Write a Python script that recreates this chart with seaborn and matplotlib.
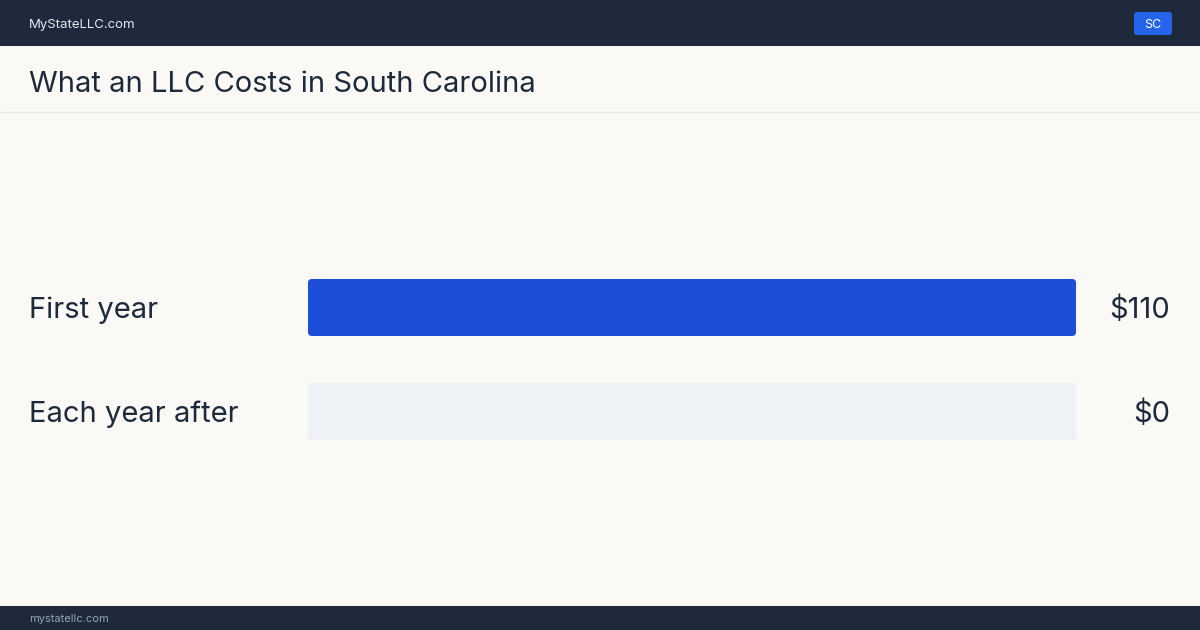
import seaborn as sns
import pandas as pd
import matplotlib.pyplot as plt
from matplotlib.patches import Rectangle, FancyBboxPatch
from matplotlib.transforms import blended_transform_factory

# chart data
categories = ['First year', 'Each year after']
costs = [110, 0]
value_labels = ['$110', '$0']
state_code = 'SC'
title = 'What an LLC Costs in South Carolina'

W, H = 1200, 630
bg = '#faf9f5'
navy = '#1e293b'
blue = '#1d4ed8'
track = '#eef1f6'

sns.set_theme(style='white')
plt.rcParams['font.family'] = ['Inter', 'DejaVu Sans']

fig = plt.figure(figsize=(12, 6.3), dpi=100, facecolor=bg)

# frame: header, title band, footer (pixel coords)
base = fig.add_axes([0, 0, 1, 1])
base.set_xlim(0, W)
base.set_ylim(H, 0)
base.axis('off')
base.add_patch(Rectangle((0, 0), W, 46, color=navy, lw=0))
base.add_patch(Rectangle((0, 606), W, 24, color=navy, lw=0))
base.plot([0, W], [111.5, 111.5], color='#e5e7eb', lw=1)
base.add_patch(FancyBboxPatch((1134, 12), 38, 23, boxstyle='round,pad=0,rounding_size=3',
                              color='#2563eb', lw=0))
base.text(1153, 23.5, state_code, color='white', fontsize=9, ha='center', va='center_baseline')
base.text(29, 23.5, 'MyStateLLC.com', color='#e2e8f0', fontsize=9.5, va='center_baseline')
base.text(29, 82, title, color=navy, fontsize=21, va='center_baseline')
base.text(29, 618.5, 'mystatellc.com', color='#94a3b8', fontsize=8, va='center_baseline')

# bars
df = pd.DataFrame({'category': categories, 'cost': costs})
df['max'] = max(costs)
ax = fig.add_axes([308 / W, 1 - 463.5 / H, 768 / W, 208 / H])
ax.set_facecolor('none')
sns.barplot(data=df, y='category', x='max', color=track, width=57 / 104,
            orient='h', ax=ax, saturation=1)
sns.barplot(data=df, y='category', x='cost', color=blue, width=57 / 104,
            orient='h', ax=ax, saturation=1)
ax.set_xlim(0, max(costs))
ax.set_ylim(1.5, -0.5)
ax.axis('off')

# round the bar corners (4px)
xpp = max(costs) / 768
ypp = 2 / 208
for p in list(ax.patches):
    x0, y0, w, h = p.get_x(), p.get_y(), p.get_width(), p.get_height()
    fc = p.get_facecolor()
    p.remove()
    if w <= 0:
        continue
    ax.add_patch(FancyBboxPatch((x0, y0), w, h,
                                boxstyle=f'round,pad=0,rounding_size={4 * xpp}',
                                mutation_aspect=ypp / xpp, fc=fc, lw=0))

tr = blended_transform_factory(fig.transFigure, ax.transData)
for i, (cat, lab) in enumerate(zip(categories, value_labels)):
    ax.text(29 / W, i, cat, transform=tr, color=navy, fontsize=21,
            va='center_baseline', ha='left')
    ax.text(1170 / W, i, lab, transform=tr, color=navy, fontsize=21,
            va='center_baseline', ha='right')

fig.savefig('out.png', dpi=100, facecolor=bg)
